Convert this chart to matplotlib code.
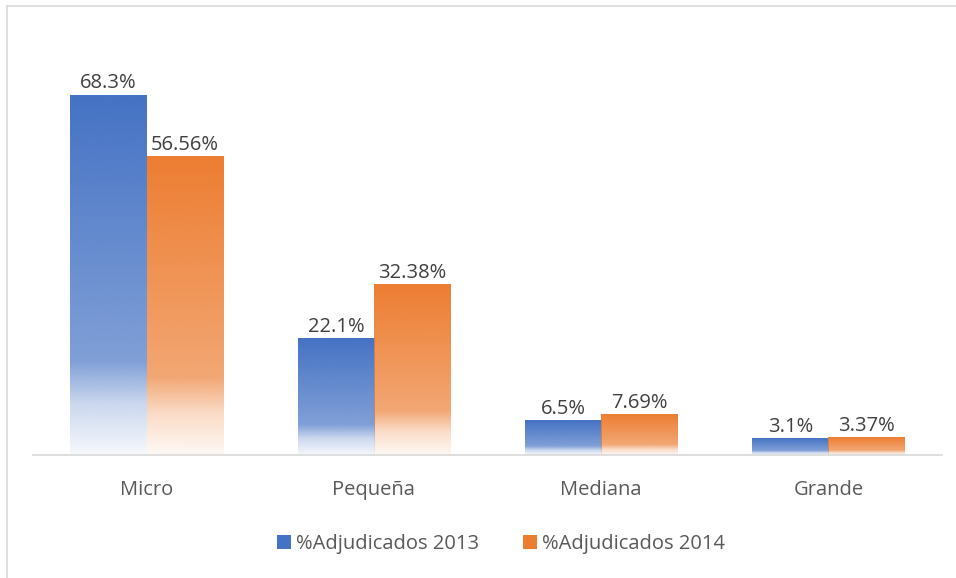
import numpy as np
import matplotlib
matplotlib.use('Agg')
import matplotlib.pyplot as plt
from matplotlib.lines import Line2D
from matplotlib.patches import Patch

categories = ['Micro', 'Pequeña', 'Mediana', 'Grande']
series_names = ['%Adjudicados 2013', '%Adjudicados 2014']
vals_2013 = [68.3, 22.1, 6.5, 3.1]
vals_2014 = [56.56, 32.38, 7.69, 3.37]

blue = '#4472C4'
orange = '#ED7D31'

plt.rcParams['font.family'] = ['Open Sans', 'DejaVu Sans']
FS = 14.5


def gradient_img(color):
    # solid on top, fading to white near the bottom of the bar
    rgb = matplotlib.colors.to_rgb(color)
    t = np.linspace(0, 1, 200)
    alpha = np.interp(t, [0, 0.74, 0.86, 1.0], [1.0, 0.68, 0.28, 0.05])
    img = np.zeros((200, 1, 4))
    img[:, 0, :3] = rgb
    img[:, 0, 3] = alpha
    return img


fig = plt.figure(figsize=(9.56, 5.78), dpi=100)
ax = fig.add_axes([0.0345, 0.2128, 0.951, 0.7294])

x = np.arange(len(categories))
w = 0.335
bars_a = ax.bar(x - w / 2, vals_2013, w, color='none', edgecolor='none')
bars_b = ax.bar(x + w / 2, vals_2014, w, color='none', edgecolor='none')

for bars, col, vals in [(bars_a, blue, vals_2013), (bars_b, orange, vals_2014)]:
    img = gradient_img(col)
    for b, v in zip(bars, vals):
        x0 = b.get_x()
        ax.imshow(img, extent=[x0, x0 + b.get_width(), 0, b.get_height()],
                  aspect='auto', origin='upper', zorder=2, interpolation='bilinear')
        ax.text(x0 + b.get_width() / 2, b.get_height() + 0.3, f'{v:g}%',
                ha='center', va='bottom', fontsize=FS, color='#404040')

ax.set_xlim(-0.5, len(categories) - 0.5)
ax.set_ylim(0, 80)
ax.set_xticks(x)
ax.set_xticklabels(categories, fontsize=FS, color='#595959')
ax.tick_params(axis='x', length=0, pad=18)
ax.set_yticks([])
for s in ['top', 'right', 'left']:
    ax.spines[s].set_visible(False)
ax.spines['bottom'].set_color('#D9D9D9')
ax.spines['bottom'].set_linewidth(1.2)

handles = [Patch(facecolor=blue), Patch(facecolor=orange)]
fig.legend(handles, series_names, loc='center', bbox_to_anchor=(0.524, 0.058),
           ncol=2, frameon=False, fontsize=FS, labelcolor='#595959',
           handlelength=0.7, handleheight=0.7, handletextpad=0.25, columnspacing=2.2)

# light chart border on top and left
fig.add_artist(Line2D([0.0075, 1.0], [0.9896, 0.9896], color='#D9D9D9', lw=1.2))
fig.add_artist(Line2D([0.0075, 0.0075], [0.0, 0.9896], color='#D9D9D9', lw=1.2))

fig.savefig('out.png', dpi=100)
